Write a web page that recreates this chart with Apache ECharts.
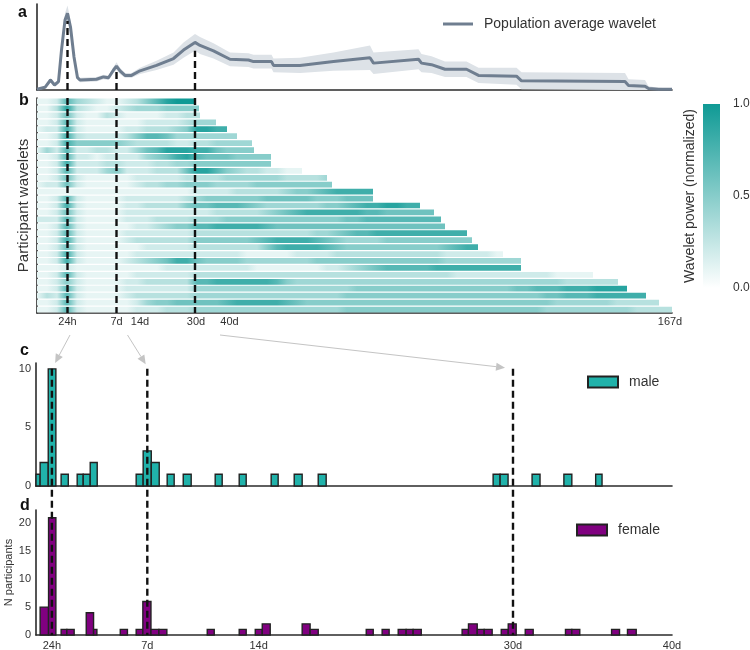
<!DOCTYPE html>
<html><head><meta charset="utf-8">
<script src="https://cdn.jsdelivr.net/npm/echarts@6/dist/echarts.min.js"></script>
<style>html,body{margin:0;padding:0;background:#fff}#chart{width:750px;height:650px}</style>
</head><body><div id="chart"></div>
<script>
// ---------- DATA ----------
// Panel a: population average wavelet (x = wavelet period index, y = normalized power)
const popIdx = [0, 1.6, 2.7, 3.5, 4.3, 4.9, 5.6, 6.1, 6.7, 7.4, 8.1, 8.6, 11.9, 13.3, 14.3, 15.3, 15.9, 16.6, 17.6, 18.9, 20.6, 23.9, 27.3, 29.3, 31.6, 32.6, 35.3, 38.6, 42.3, 43.3, 46.9, 47.3, 52.6, 59.3, 66.6, 67.3, 76.3, 76.9, 78.9, 81.6, 85.9, 88.3, 95.9, 96.9, 117.6, 118.3, 121.6, 122.3, 124.3, 127];
const popAvg = [0.01, 0.035, 0.13, 0.065, 0.11, 0.52, 0.91, 1.0, 0.82, 0.43, 0.16, 0.13, 0.14, 0.17, 0.16, 0.26, 0.31, 0.25, 0.19, 0.19, 0.25, 0.32, 0.41, 0.52, 0.62, 0.58, 0.51, 0.40, 0.39, 0.37, 0.37, 0.32, 0.32, 0.37, 0.42, 0.35, 0.40, 0.35, 0.33, 0.27, 0.27, 0.19, 0.18, 0.12, 0.11, 0.06, 0.05, 0.02, 0.01, 0.01];
const popSpread = [0.01, 0.015, 0.03, 0.02, 0.03, 0.06, 0.09, 0.1, 0.09, 0.06, 0.03, 0.03, 0.03, 0.03, 0.03, 0.04, 0.05, 0.04, 0.03, 0.03, 0.04, 0.06, 0.08, 0.1, 0.11, 0.11, 0.1, 0.09, 0.09, 0.09, 0.09, 0.09, 0.1, 0.12, 0.16, 0.14, 0.13, 0.12, 0.11, 0.1, 0.1, 0.1, 0.11, 0.11, 0.11, 0.08, 0.08, 0.03, 0.02, 0.01];

// Period axis (panels a, b)
const periodTickIdx = [6.1, 15.9, 20.6, 31.8, 38.5, 126.6];
const periodTickLabels = ['24h', '7d', '14d', '30d', '40d', '167d'];
const markPeriodIdx = [6.1, 15.9, 31.6];

// Panel b: participant wavelets (power 0-10 sampled every 2 period-index units)
const heatStopStep = 2;
const heatRowEnds = [31.6, 32.4, 32.6, 35.8, 38, 40, 43, 43.4, 46.8, 46.8, 53, 58, 59, 67.2, 67.2, 76.6, 79.4, 80.8, 81.6, 86, 87, 88.2, 93.2, 96.8, 96.8, 111.2, 116.2, 118, 121.8, 124.4, 127];
const heatRowPower = [
 [1,1,2,7,4,3,2,1,1,2,3,5,7,9,10,10],
 [1,1,3,9,3,2,1,1,2,3,4,4,4,5,5,5,5],
 [1,1,2,6,2,1,1,3,2,1,1,1,1,2,2,3,3],
 [1,1,2,7,2,1,1,1,1,1,1,2,2,2,2,3,4,4],
 [1,2,2,8,2,1,1,1,1,2,2,3,3,3,4,5,9,9,8,8],
 [1,1,2,8,3,2,2,2,2,3,5,7,7,6,4,4,4,4,4,4,4],
 [1,1,2,8,5,5,5,5,5,4,3,3,3,3,2,2,3,3,4,4,4,4],
 [1,4,2,7,2,2,3,3,2,2,4,6,7,9,9,9,8,8,6,5,5,5],
 [1,1,2,7,2,2,1,2,2,2,2,4,5,6,8,9,7,6,6,6,5,5,5,5],
 [1,1,2,8,2,2,2,3,3,2,2,2,3,3,4,4,5,5,5,5,5,5,5,5],
 [1,1,2,7,2,2,2,4,5,2,2,2,3,3,3,6,9,9,7,5,4,3,3,2,2,1,1],
 [1,1,2,6,2,1,1,1,1,1,2,2,2,2,2,3,3,3,3,4,4,4,4,4,4,3,3,3,3,4],
 [1,2,2,6,2,1,1,1,1,1,2,3,3,4,4,5,5,5,4,4,4,4,5,5,5,5,5,5,5,5],
 [1,1,1,1,1,1,1,1,1,1,1,1,1,1,1,1,2,2,2,2,3,3,3,3,3,4,5,5,6,7,8,8,8,8],
 [1,1,2,7,2,1,1,1,1,2,2,2,2,2,2,3,4,5,5,5,5,5,5,6,6,6,6,6,5,5,5,6,6,6],
 [1,1,2,8,2,1,1,1,1,2,2,3,3,3,3,5,6,6,7,7,7,6,5,4,4,4,4,4,4,5,5,6,7,8,8,9,9,8,8],
 [1,1,2,6,2,1,1,1,1,2,2,2,2,2,2,2,2,2,3,3,3,3,3,4,5,6,7,8,8,8,8,8,8,7,7,6,6,6,6,6],
 [2,2,2,7,2,1,1,1,1,2,2,2,3,3,3,3,4,4,4,5,5,5,5,5,5,5,5,5,5,5,5,6,6,7,7,7,7,7,7,7,7],
 [1,1,2,7,2,1,1,1,1,1,2,2,3,4,5,5,7,7,8,8,8,8,8,7,6,6,6,6,6,6,6,6,6,6,6,6,6,6,6,6,6],
 [1,1,2,7,2,1,1,1,1,2,2,2,2,2,2,2,3,3,3,3,3,3,3,3,3,3,3,3,4,4,5,6,7,7,8,8,8,8,8,8,8,8,8,8],
 [1,1,2,8,2,1,1,1,1,2,3,3,3,3,3,3,5,5,5,5,5,5,6,7,8,8,8,8,7,6,5,4,4,4,4,5,5,5,5,5,5,5,5,5],
 [1,1,2,6,2,1,1,1,1,1,1,2,2,2,2,2,3,3,3,3,3,3,3,5,7,8,8,8,8,7,6,5,5,5,5,5,5,5,5,5,5,6,7,8,8],
 [1,1,2,8,2,1,1,1,1,1,2,2,2,2,2,2,2,2,2,2,2,1,1,1,1,1,2,2,2,2,3,3,3,3,3,3,3,3,3,3,3,2,2,2,2,2,1],
 [1,1,2,8,2,1,1,1,1,2,3,4,5,6,8,8,6,5,5,5,5,4,4,4,4,4,4,4,5,5,5,5,5,5,5,5,5,5,5,5,5,4,4,4,4,4,4,4,4],
 [1,1,1,2,1,1,1,1,1,1,1,1,1,2,2,2,2,2,2,2,2,2,1,1,1,1,1,1,1,2,2,3,4,5,6,7,7,7,7,7,8,8,8,8,8,8,8,8,8],
 [1,1,2,7,2,1,1,1,1,1,2,2,2,2,2,2,3,3,3,3,3,3,3,3,3,3,3,3,3,3,3,3,3,3,3,3,3,3,3,3,3,3,2,2,2,2,2,2,2,2,2,2,1,1,1,1],
 [1,1,2,5,2,1,1,1,1,2,2,3,3,3,3,3,7,7,8,8,8,8,8,8,7,5,4,4,4,4,4,4,4,4,4,4,4,4,4,4,4,4,4,4,4,4,4,4,4,4,4,4,4,3,3,3,3,3,3],
 [1,1,2,7,2,1,1,1,1,2,2,2,2,2,2,2,4,4,4,4,4,4,4,4,4,4,4,4,4,4,4,4,5,5,5,5,5,5,5,5,5,5,5,5,5,5,5,5,6,6,7,7,7,8,8,8,9,9,9,9],
 [1,3,2,7,2,1,1,1,1,2,3,3,3,3,3,3,4,4,4,4,4,4,4,4,4,4,4,4,4,4,4,5,5,5,5,5,5,5,5,5,5,5,5,5,5,5,5,5,5,5,5,6,6,7,7,7,8,8,8,8,8],
 [1,1,2,7,2,1,1,1,1,1,2,4,5,5,6,6,6,6,6,7,8,8,8,8,8,7,6,5,5,5,5,5,5,5,5,5,5,5,5,5,5,5,5,5,5,5,5,5,5,5,5,5,4,4,4,4,4,4,3,3,3,3,3],
 [1,1,2,7,2,1,1,1,1,1,2,2,2,3,3,3,4,4,4,4,4,4,4,4,4,4,4,4,4,4,4,5,5,5,5,5,5,5,5,5,5,5,5,5,5,5,5,5,5,5,5,4,4,4,4,4,4,4,4,4,3,3,3,3]
];
const colorbarTicks = [0, 0.5, 1];

// Panels c, d: histograms of dominant periods, bins [start day, end day, count]
const maleBins = [[0,0.26,1],[0.26,0.77,2],[0.77,1.25,10],[1.58,2.03,1],[2.59,2.97,1],[2.97,3.41,1],[3.41,3.85,2],[6.30,6.74,1],[6.74,7.25,3],[7.25,7.75,2],[8.25,8.69,1],[9.26,9.76,1],[11.27,11.71,1],[12.78,13.22,1],[14.79,15.23,1],[16.24,16.74,1],[17.75,18.25,1],[28.75,29.19,1],[29.19,29.69,1],[31.2,31.7,1],[33.2,33.7,1],[35.2,35.6,1]];
const femaleBins = [[0.26,0.79,5],[0.79,1.25,21],[1.58,1.94,1],[1.94,2.40,1],[3.16,3.62,4],[3.62,3.83,1],[5.3,5.75,1],[6.30,6.72,1],[6.72,7.23,6],[7.23,7.73,1],[7.73,8.23,1],[10.77,11.21,1],[12.78,13.22,1],[13.79,14.23,1],[14.23,14.73,2],[16.74,17.24,2],[17.24,17.75,1],[20.77,21.21,1],[21.77,22.21,1],[22.78,23.28,1],[23.28,23.72,1],[23.72,24.23,1],[26.8,27.2,1],[27.2,27.75,2],[27.75,28.19,1],[28.19,28.69,1],[29.26,29.7,1],[29.7,30.2,2],[30.77,31.27,1],[33.3,33.7,1],[33.7,34.2,1],[36.2,36.7,1],[37.2,37.75,1]];
const dayTicks = [1, 7, 14, 30, 40];
const dayTickLabels = ['24h', '7d', '14d', '30d', '40d'];
const markDays = [1, 7, 30];

// Arrows linking panel b to panel c
const arrowFromIdx = [6.6, 18.1, 36.6];
const arrowToDay = [1.2, 6.9, 29.5];
const arrowToCount = [10.5, 10.4, 10.1];

// ---------- STYLE ----------
const FONT = '"Liberation Sans", Arial, sans-serif';
const TEAL_RGB = [15, 154, 149];
const LINE_COLOR = '#6f7e90';
const BAND_COLOR = '#dde2e7';
const AXIS = {show: true, onZero: false, lineStyle: {color: '#2b2b2b', width: 1.6}};

function powerColor(t) {
  t = Math.max(0, Math.min(1, t));
  const c = TEAL_RGB.map(ch => Math.round(255 + (ch - 255) * t));
  return 'rgb(' + c.join(',') + ')';
}
function labelFor(values, labels) {
  return v => {
    let best = 0;
    for (let i = 1; i < values.length; i++) if (Math.abs(values[i] - v) < Math.abs(values[best] - v)) best = i;
    return labels[best];
  };
}

const chart = echarts.init(document.getElementById('chart'));

function bandItem(params, api) {
  if (params.dataIndex !== 0) return null;
  const pts = [];
  for (let i = 0; i < popIdx.length; i++) pts.push(api.coord([popIdx[i], popAvg[i] + popSpread[i]]));
  for (let i = popIdx.length - 1; i >= 0; i--) pts.push(api.coord([popIdx[i], Math.max(0, popAvg[i] - popSpread[i])]));
  return {type: 'polygon', shape: {points: pts}, style: {fill: BAND_COLOR}};
}

function heatItem(params, api) {
  const row = api.value(0), end = api.value(1);
  const vals = heatRowPower[row];
  const a = api.coord([0, row]), b = api.coord([end, row]);
  const h = api.size([0, 1])[1];
  const stops = [];
  for (let k = 0; k < vals.length; k++) {
    const pos = k * heatStopStep;
    if (pos > end) break;
    stops.push({offset: pos / end, color: powerColor(vals[k] / 10)});
  }
  const last = stops[stops.length - 1];
  if (last.offset < 1) stops.push({offset: 1, color: last.color});
  return {
    type: 'rect',
    shape: {x: a[0], y: a[1] - h / 2 + 0.6, width: b[0] - a[0], height: h - 1.2},
    style: {fill: new echarts.graphic.LinearGradient(0, 0, 1, 0, stops)}
  };
}

function histItem(params, api) {
  const p0 = api.coord([api.value(0), api.value(2)]);
  const p1 = api.coord([api.value(1), 0]);
  const cs = params.coordSys;
  const rect = echarts.graphic.clipRectByRect(
    {x: p0[0], y: p0[1], width: p1[0] - p0[0], height: p1[1] - p0[1]},
    {x: cs.x, y: cs.y, width: cs.width, height: cs.height});
  if (!rect) return null;
  return {type: 'rect', shape: rect, style: api.style()};
}

const series = [];
series.push({type: 'custom', name: 'band', xAxisIndex: 0, yAxisIndex: 0, renderItem: bandItem,
  data: popIdx.map((x, i) => [x, popAvg[i]]), z: 1, silent: true});
series.push({type: 'line', name: 'Population average wavelet', xAxisIndex: 0, yAxisIndex: 0,
  data: popIdx.map((x, i) => [x, popAvg[i]]), showSymbol: false, symbol: 'none',
  lineStyle: {color: LINE_COLOR, width: 3}, itemStyle: {color: LINE_COLOR}, z: 3});
markPeriodIdx.forEach(x => {
  const i = popIdx.indexOf(x);
  const top = popAvg[i] - popSpread[i];
  series.push({type: 'line', xAxisIndex: 0, yAxisIndex: 0, data: [[x, 0], [x, top]], symbol: 'none',
    lineStyle: {color: '#111', width: 2.4, type: [7, 4]}, z: 4, silent: true});
});
series.push({type: 'custom', name: 'wavelets', xAxisIndex: 1, yAxisIndex: 1, renderItem: heatItem,
  data: heatRowEnds.map((e, i) => [i, e]), encode: {x: 1, y: 0}, z: 1, silent: true});
markPeriodIdx.forEach(x => {
  series.push({type: 'line', xAxisIndex: 1, yAxisIndex: 1, data: [[x, -0.5], [x, 30.5]], symbol: 'none',
    lineStyle: {color: '#111', width: 2.4, type: [7, 4]}, z: 4, silent: true});
});
series.push({type: 'custom', name: 'male', xAxisIndex: 2, yAxisIndex: 2, renderItem: histItem,
  data: maleBins, encode: {x: [0, 1], y: 2},
  itemStyle: {color: '#20b2aa', borderColor: '#222', borderWidth: 1.4}, z: 2});
series.push({type: 'custom', name: 'female', xAxisIndex: 3, yAxisIndex: 3, renderItem: histItem,
  data: femaleBins, encode: {x: [0, 1], y: 2},
  itemStyle: {color: '#800080', borderColor: '#222', borderWidth: 1.4}, z: 2});

const txt = {fontFamily: FONT, color: '#333'};
const gridBase = {outerBoundsMode: 'none', containLabel: false};
const legendBase = {selectedMode: false, padding: 0, itemGap: 0};
const option = {
  animation: false,
  backgroundColor: '#fff',
  textStyle: {fontFamily: FONT},
  grid: [
    Object.assign({left: 37, right: 78, top: 4, height: 86}, gridBase),
    Object.assign({left: 37, right: 78, top: 98, height: 215}, gridBase),
    Object.assign({left: 36, right: 78, top: 363, height: 123}, gridBase),
    Object.assign({left: 36, right: 78, top: 510, height: 125}, gridBase)
  ],
  xAxis: [
    {gridIndex: 0, type: 'value', min: 0, max: 127, axisLine: AXIS, axisTick: {show: false}, axisLabel: {show: false}, splitLine: {show: false}},
    {gridIndex: 1, type: 'value', min: 0, max: 127, axisLine: AXIS, axisTick: {show: false}, splitLine: {show: false},
      axisLabel: Object.assign({customValues: periodTickIdx, formatter: labelFor(periodTickIdx, periodTickLabels), fontSize: 11, margin: 3}, txt)},
    {gridIndex: 2, type: 'value', min: 0, max: 40, axisLine: AXIS, axisTick: {show: false}, axisLabel: {show: false}, splitLine: {show: false}},
    {gridIndex: 3, type: 'value', min: 0, max: 40, axisLine: AXIS, axisTick: {show: false}, splitLine: {show: false},
      axisLabel: Object.assign({customValues: dayTicks, formatter: labelFor(dayTicks, dayTickLabels), fontSize: 11, margin: 5}, txt)}
  ],
  yAxis: [
    {gridIndex: 0, type: 'value', min: 0, max: 1.12, axisLine: AXIS, axisTick: {show: false}, axisLabel: {show: false}, splitLine: {show: false}},
    {gridIndex: 1, type: 'value', min: -0.5, max: 30.5, inverse: true, axisLine: AXIS, axisTick: {show: false}, axisLabel: {show: false}, splitLine: {show: false},
      name: 'Participant wavelets', nameLocation: 'middle', nameGap: 6, nameMoveOverlap: false, nameTextStyle: Object.assign({fontSize: 15}, txt)},
    {gridIndex: 2, type: 'value', min: 0, max: 10.5, interval: 5, axisLine: AXIS, axisTick: {show: false}, splitLine: {show: false},
      axisLabel: Object.assign({fontSize: 11, margin: 5, showMaxLabel: false}, txt)},
    {gridIndex: 3, type: 'value', min: 0, max: 22.4, interval: 5, axisLine: AXIS, axisTick: {show: false}, splitLine: {show: false},
      axisLabel: Object.assign({fontSize: 11, margin: 5, showMaxLabel: false}, txt),
      name: 'N participants', nameLocation: 'middle', nameGap: 22, nameMoveOverlap: false, nameTextStyle: Object.assign({fontSize: 11}, txt)}
  ],
  legend: [
    Object.assign({data: [{name: 'Population average wavelet', icon: 'rect'}], left: 443, top: 17, itemWidth: 30, itemHeight: 3,
      textStyle: Object.assign({fontSize: 14, padding: [0, 0, 0, 6]}, txt)}, legendBase),
    Object.assign({data: [{name: 'male', icon: 'rect'}], left: 587, top: 375, itemWidth: 30, itemHeight: 11,
      textStyle: Object.assign({fontSize: 14, padding: [0, 0, 0, 6]}, txt)}, legendBase),
    Object.assign({data: [{name: 'female', icon: 'rect'}], left: 576, top: 523, itemWidth: 30, itemHeight: 11,
      textStyle: Object.assign({fontSize: 14, padding: [0, 0, 0, 6]}, txt)}, legendBase)
  ],
  series: series
};
chart.setOption(option);

// ---------- ANNOTATIONS ----------
const g = [];
markDays.forEach(d => {
  const top = chart.convertToPixel({gridIndex: 2}, [d, 10]);
  const bot = chart.convertToPixel({gridIndex: 3}, [d, 0]);
  g.push({type: 'line', z: 60, silent: true, shape: {x1: top[0], y1: top[1], x2: bot[0], y2: bot[1]},
    style: {stroke: '#111', lineWidth: 2.4, lineDash: [7, 4]}});
});
arrowFromIdx.forEach((xi, i) => {
  const sb = chart.convertToPixel({gridIndex: 1}, [xi, 30.5]);
  const S = [sb[0], sb[1] + 22];
  const E = chart.convertToPixel({gridIndex: 2}, [arrowToDay[i], arrowToCount[i]]);
  const dx = E[0] - S[0], dy = E[1] - S[1], L = Math.hypot(dx, dy);
  const ux = dx / L, uy = dy / L, nx = -uy, ny = ux;
  const hl = 9, hw = 4;
  const B = [E[0] - hl * ux, E[1] - hl * uy];
  g.push({type: 'line', z: 55, silent: true, shape: {x1: S[0], y1: S[1], x2: B[0], y2: B[1]}, style: {stroke: '#c4c4c4', lineWidth: 1}});
  g.push({type: 'polygon', z: 55, silent: true, shape: {points: [E, [B[0] + hw * nx, B[1] + hw * ny], [B[0] - hw * nx, B[1] - hw * ny]]}, style: {fill: '#c4c4c4'}});
});
[['a', 18, 13], ['b', 19, 101], ['c', 20, 351], ['d', 20, 506]].forEach(p => {
  g.push({type: 'text', z: 60, silent: true, style: {text: p[0], x: p[1], y: p[2], font: 'bold 16px ' + FONT, fill: '#111', align: 'left', verticalAlign: 'middle'}});
});
const cbX = 703, cbTop = 104, cbBot = 288, cbW = 17;
g.push({type: 'rect', z: 10, silent: true, shape: {x: cbX, y: cbTop, width: cbW, height: cbBot - cbTop},
  style: {fill: new echarts.graphic.LinearGradient(0, 0, 0, 1, [{offset: 0, color: powerColor(1)}, {offset: 1, color: powerColor(0)}])}});
colorbarTicks.forEach(t => {
  const y = cbBot - t * (cbBot - cbTop);
  g.push({type: 'text', z: 10, silent: true, style: {text: t.toFixed(1), x: 733, y: y, font: '12px ' + FONT, fill: '#333', align: 'left', verticalAlign: 'middle'}});
});
g.push({type: 'text', z: 10, silent: true, rotation: Math.PI / 2, x: 690, y: 196,
  style: {text: 'Wavelet power (normalized)', x: 0, y: 0, font: '14px ' + FONT, fill: '#333', align: 'center', verticalAlign: 'middle'}});
chart.setOption({graphic: g});
</script></body></html>
